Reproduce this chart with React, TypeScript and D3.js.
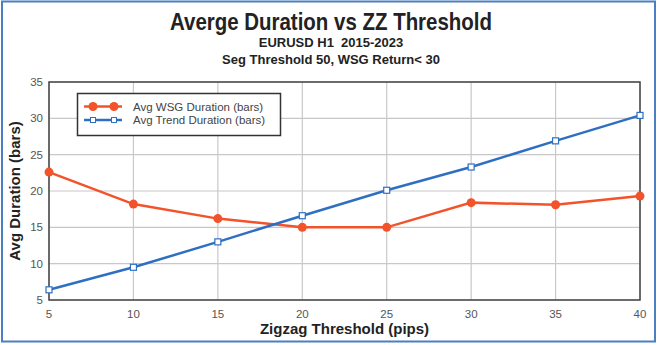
import React from "react";
import * as d3 from "d3";

const thresholds = [5, 10, 15, 20, 25, 30, 35, 40];
const wsgDuration = [22.6, 18.2, 16.2, 15.0, 15.0, 18.4, 18.1, 19.3];
const trendDuration = [6.4, 9.5, 13.0, 16.6, 20.1, 23.3, 26.9, 30.4];
const yTicks = [5, 10, 15, 20, 25, 30, 35];
const xTicks = [5, 10, 15, 20, 25, 30, 35, 40];
const seriesNames = ["Avg WSG Duration (bars)", "Avg Trend Duration (bars)"];

const W = 659;
const H = 345;
const M = { left: 49, right: 640, top: 82, bottom: 300 };
const ORANGE = "#f2532a";
const BLUE = "#2f6fc2";
const FONT = "'Liberation Sans', Arial, sans-serif";

export default function App() {
  const x = d3.scaleLinear().domain([5, 40]).range([M.left, M.right]);
  const y = d3.scaleLinear().domain([5, 35]).range([M.bottom, M.top]);
  const line = d3
    .line<[number, number]>()
    .x((d) => x(d[0]))
    .y((d) => y(d[1]));
  const wsgPts = thresholds.map((t, i) => [t, wsgDuration[i]] as [number, number]);
  const trendPts = thresholds.map((t, i) => [t, trendDuration[i]] as [number, number]);

  return (
    <svg
      width={W}
      height={H}
      style={{ position: "absolute", left: 0, top: 0, background: "#fff" }}
      fontFamily={FONT}
    >
      <rect x={0} y={0} width={W} height={H} fill="#fff" />
      <rect x={2} y={1.5} width={653} height={340} fill="none" stroke="#4a7fc1" strokeWidth={2} />
      <text
        x={331}
        y={29.5}
        textAnchor="middle"
        fontSize={24}
        fontWeight="bold"
        fill="#222"
        textLength={322}
        lengthAdjust="spacingAndGlyphs"
      >
        Averge Duration vs ZZ Threshold
      </text>
      <text x={331} y={47} textAnchor="middle" fontSize={13} fontWeight="bold" fill="#222" style={{ whiteSpace: "pre" }}>
        {"EURUSD H1  2015-2023"}
      </text>
      <text x={331} y={64} textAnchor="middle" fontSize={13} fontWeight="bold" fill="#222">
        Seg Threshold 50, WSG Return&lt; 30
      </text>

      {/* grid */}
      {xTicks.map((t) => (
        <line key={"gx" + t} x1={x(t)} x2={x(t)} y1={M.top} y2={M.bottom} stroke="#c8c8c8" strokeWidth={1.2} />
      ))}
      {yTicks.map((t) => (
        <line key={"gy" + t} x1={M.left} x2={M.right} y1={y(t)} y2={y(t)} stroke="#c8c8c8" strokeWidth={1.2} />
      ))}
      <rect
        x={M.left}
        y={M.top}
        width={M.right - M.left}
        height={M.bottom - M.top}
        fill="none"
        stroke="#444"
        strokeWidth={1.5}
      />

      {/* tick labels */}
      {yTicks.map((t) => (
        <text key={"ty" + t} x={M.left - 6} y={y(t) + 4} textAnchor="end" fontSize={11.5} fill="#555">
          {t}
        </text>
      ))}
      {xTicks.map((t) => (
        <text key={"tx" + t} x={x(t)} y={318} textAnchor="middle" fontSize={11.5} fill="#555">
          {t}
        </text>
      ))}

      {/* axis titles */}
      <text x={(M.left + M.right) / 2} y={333.5} textAnchor="middle" fontSize={15} fontWeight="bold" fill="#222">
        Zigzag Threshold (pips)
      </text>
      <text
        transform={`translate(20,${(M.top + M.bottom) / 2}) rotate(-90)`}
        textAnchor="middle"
        fontSize={15}
        fontWeight="bold"
        fill="#222"
      >
        Avg Duration (bars)
      </text>

      {/* series */}
      <path d={line(wsgPts) || ""} fill="none" stroke={ORANGE} strokeWidth={2.5} />
      <path d={line(trendPts) || ""} fill="none" stroke={BLUE} strokeWidth={2.5} />
      {wsgPts.map((p, i) => (
        <circle key={"w" + i} cx={x(p[0])} cy={y(p[1])} r={4.5} fill={ORANGE} />
      ))}
      {trendPts.map((p, i) => (
        <rect
          key={"t" + i}
          x={x(p[0]) - 3}
          y={y(p[1]) - 3}
          width={6}
          height={6}
          fill="#fff"
          stroke={BLUE}
          strokeWidth={1.2}
        />
      ))}

      {/* legend */}
      <rect x={77.5} y={93.5} width={203} height={42} fill="#fff" stroke="#333" strokeWidth={1.5} />
      <line x1={84} x2={122} y1={106.5} y2={106.5} stroke={ORANGE} strokeWidth={2.5} />
      <circle cx={93} cy={106.5} r={4.5} fill={ORANGE} />
      <circle cx={114} cy={106.5} r={4.5} fill={ORANGE} />
      <text x={133} y={110.5} fontSize={11.5} fill="#444">
        {seriesNames[0]}
      </text>
      <line x1={84} x2={122} y1={120} y2={120} stroke={BLUE} strokeWidth={2.5} />
      <rect x={90.5} y={117.5} width={5} height={5} fill="#fff" stroke={BLUE} strokeWidth={1} />
      <rect x={111.5} y={117.5} width={5} height={5} fill="#fff" stroke={BLUE} strokeWidth={1} />
      <text x={133} y={124} fontSize={11.5} fill="#444">
        {seriesNames[1]}
      </text>
    </svg>
  );
}
